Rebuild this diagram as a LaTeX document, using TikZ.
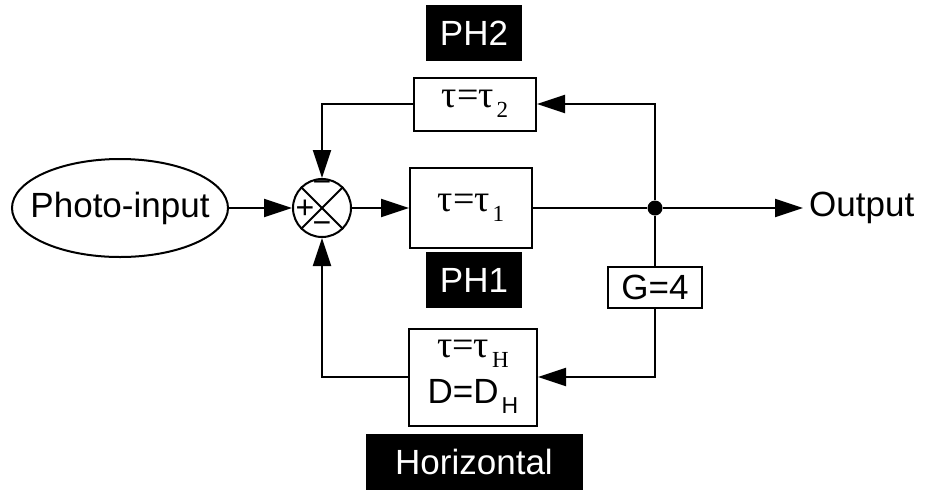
\documentclass[tikz,border=0pt]{standalone}
\usepackage{fontspec}
\setmainfont{Liberation Sans}
\newfontfamily\serifgr{Liberation Serif}
\usetikzlibrary{arrows.meta,shapes.geometric}

\tikzset{
  blk/.style={draw, line width=2pt, inner sep=0pt},
  tag/.style={fill=black, text=white, inner sep=0pt, minimum height=56pt},
  sgn/.style={inner sep=0pt, font=\fontsize{32}{32}\selectfont},
  fb/.style={line width=2pt, -{Triangle[length=28pt,width=18pt]}},
  ln/.style={line width=2pt},
}
\newcommand{\tsub}[1]{\hspace{3pt}\raisebox{-10pt}{\fontsize{23}{23}\selectfont #1}}
\newcommand{\taueq}[1]{{\serifgr\fontsize{38}{42}\selectfont τ=τ\tsub{#1}}}

\begin{document}
\begin{tikzpicture}[x=1pt, y=-1pt, font=\fontsize{35}{42}\selectfont]
	\useasboundingbox (0,0) rectangle (925,491);
	
	% 输入与求和点
	\node[ellipse, draw, line width=2pt, minimum width=216pt, minimum height=98pt, inner xsep=-25pt, inner ysep=0pt] (photo) at (120,208) {Photo-input};
	\node[circle, draw, line width=2pt, minimum size=58pt, inner sep=0pt] (sum) at (322,208) {};
	\draw[ln] (sum.north west) -- (sum.south east);
	\draw[ln] (sum.north east) -- (sum.south west);
	\node[sgn] (mtop) at (322,187) {−};
	\node[sgn] (plus) at (305,209) {+};
	\node[sgn] (mbot) at (322,228) {−};
	
	% 三个方框
	\node[blk, minimum width=122pt, minimum height=80pt] (t1) at (471,208) {\taueq{1}};
	\node[blk, minimum width=122pt, minimum height=53pt] (t2) at (475,104) {\taueq{2}};
	\node[blk, minimum width=128pt, minimum height=97pt, align=center] (th) at (473,377)
		{\taueq{H}\\[4pt] D=D\tsub{H}};
	\node[blk, minimum width=94pt, minimum height=41pt] (g) at (655,287) {G=4};
	
	% 分支点与输出
	\node[circle, fill, inner sep=0pt, minimum size=15pt] (dot) at (655,208) {};
	\node[anchor=west, inner sep=6pt] (out) at (803,208) {Output};
	
	% 黑底标签
	\node[tag, minimum width=96pt] (ph2) at (474,33) {PH2};
	\node[tag, minimum width=96pt] (ph1) at (474,280) {PH1};
	\node[tag, minimum width=217pt] (hz) at (474,462) {Horizontal};
	
	% 连线
	\draw[fb] (photo) -- (sum);
	\draw[fb] (sum) -- (t1);
	\draw[ln] (t1) -- (dot);
	\draw[fb] (dot) -- (out.west);
	\draw[fb] (dot) |- (t2.east);
	\draw[fb] (t2.west) -| (sum.north);
	\draw[ln] (dot) -- (g);
	\draw[fb] (g.south) |- (th.east);
	\draw[fb] (th.west) -| (sum.south);
\end{tikzpicture}
\end{document}
